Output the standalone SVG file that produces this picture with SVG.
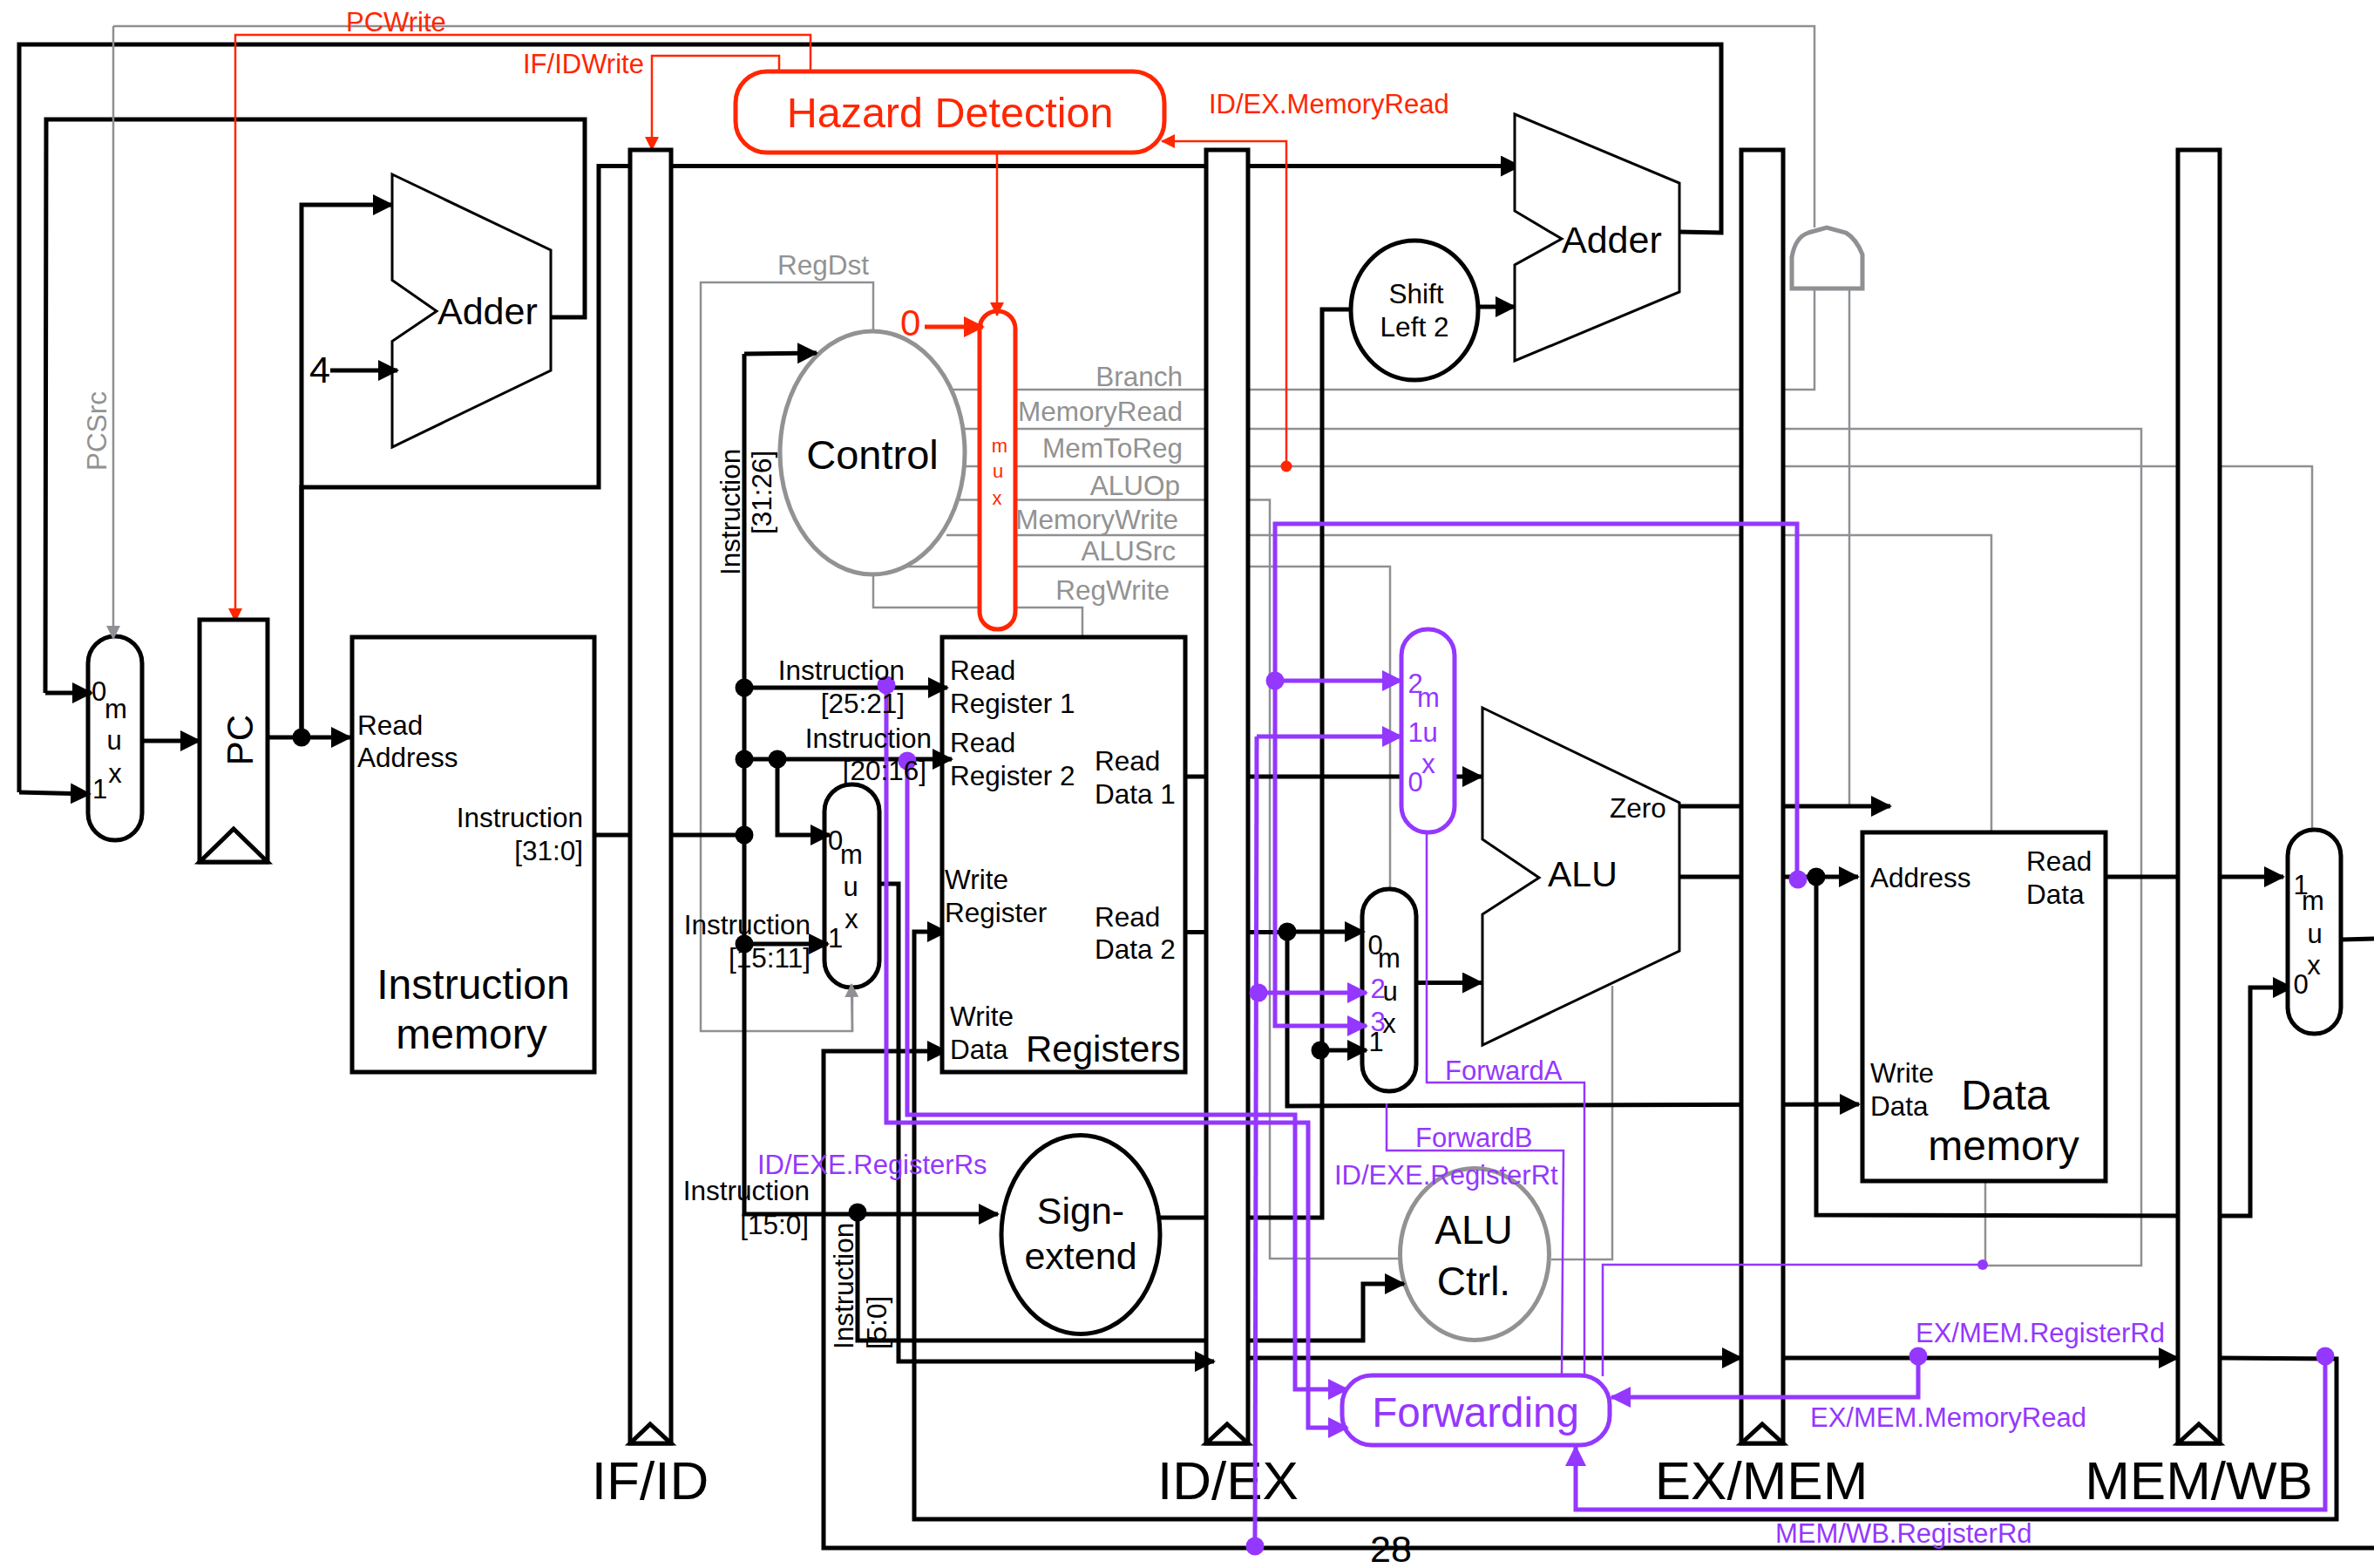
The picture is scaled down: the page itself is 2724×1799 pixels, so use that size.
<svg xmlns="http://www.w3.org/2000/svg" width="2724" height="1799" viewBox="0 0 2724 1799">
<style>
text{font-family:"Liberation Sans",Arial,sans-serif;fill:#000}
.s31{font-size:31px}.s32{font-size:31.500px}.s42{font-size:42px}.s48{font-size:48px}.s60{font-size:62px}
.m{text-anchor:middle}.e{text-anchor:end}
.tg{fill:#929292;font-size:31.500px}.tr{fill:#ff2600;font-size:31px}.tp{fill:#9437ff;font-size:31px}
.w{fill:none;stroke-linejoin:miter}
.k{stroke:#000;stroke-width:5}.g{stroke:#8e9093;stroke-width:2.500}.r{stroke:#ff2600;stroke-width:2.500}
.r2{stroke:#ff2600;stroke-width:5}.p{stroke:#9437ff;stroke-width:5}.pt{stroke:#9437ff;stroke-width:2.500}
.box{fill:#fff;stroke:#000;stroke-width:5}.thin{fill:#fff;stroke:#000;stroke-width:3}
.gy{fill:#fff;stroke:#929292;stroke-width:5}
.rn{fill:#fff;stroke:#ff2600;stroke-width:5}.pn{fill:#fff;stroke:#9437ff;stroke-width:5}
.dk{fill:#000}.dp{fill:#9437ff}.dr{fill:#ff2600}
</style>
<defs>
<marker id="ak" markerUnits="userSpaceOnUse" markerWidth="26" markerHeight="26" refX="22" refY="12" orient="auto"><path d="M0,0L24,12L0,24Z" fill="#000"/></marker>
<marker id="ag" markerUnits="userSpaceOnUse" markerWidth="18" markerHeight="16" refX="15" refY="8" orient="auto"><path d="M0,0L16,8L0,16Z" fill="#8e9093"/></marker>
<marker id="ar" markerUnits="userSpaceOnUse" markerWidth="18" markerHeight="16" refX="15" refY="8" orient="auto"><path d="M0,0L16,8L0,16Z" fill="#ff2600"/></marker>
<marker id="ar2" markerUnits="userSpaceOnUse" markerWidth="26" markerHeight="26" refX="22" refY="12" orient="auto"><path d="M0,0L24,12L0,24Z" fill="#ff2600"/></marker>
<marker id="ap" markerUnits="userSpaceOnUse" markerWidth="26" markerHeight="26" refX="22" refY="12" orient="auto"><path d="M0,0L24,12L0,24Z" fill="#9437ff"/></marker>
</defs>
<rect width="2724" height="1799" fill="#fff"/>

<g id="connectors">
<g class="w g">
<path d="M130,30H2082V261"/>
<path d="M1085,447H2082V333"/>
<path d="M2122,333V925"/>
<path d="M1100,492H2457V1452H2276"/>
<path d="M1100,535H2653V952"/>
<path d="M1096,573.500H1457V1444H1607"/>
<path d="M1086,614H2285V955"/>
<path d="M1036,650H1595V1020"/>
<path d="M1002,659V697H1242V731"/>
<path d="M1002,380V324H804V1183H978V1135"/>
<path d="M1850,1131V1445H1780"/>
<path d="M2278,1355V1452"/>
</g>
<g class="w k">
<path d="M1927,266L1975,267V51H22V909"/>
<path d="M632,364H671V137H53L52,795"/>
<path d="M346,846V559H687V190.500H723"/>
<path d="M771,190.500H1744" marker-end="url(#ak)"/>
<path d="M346,846V235H450" marker-end="url(#ak)"/>
<path d="M682,958H854"/>
<path d="M854,958V406"/>
<path d="M854,958V1393H1145" marker-end="url(#ak)"/>
<path d="M1360,891H1700" marker-end="url(#ak)"/>
<path d="M1360,1069.500H1477"/>
<path d="M1477,1069V1269L2133,1267" marker-end="url(#ak)"/>
<path d="M1332,1397H1517V355H1549"/>
<path d="M1697,352H1738" marker-end="url(#ak)"/>
<path d="M1927,925H2169" marker-end="url(#ak)"/>
<path d="M1927,1006H2132" marker-end="url(#ak)"/>
<path d="M2084,1006V1394L2582,1395V1133H2630" marker-end="url(#ak)"/>
<path d="M2416,1006H2620" marker-end="url(#ak)"/>
<path d="M984,1391V1538H1432"/>
<path d="M1009,1014H1031V1562H1360"/>
<path d="M1432,1558H1998" marker-end="url(#ak)"/>
<path d="M2046,1558H2499" marker-end="url(#ak)"/>
<path d="M2547,1558L2681,1559V1743H1049V1069H1086" marker-end="url(#ak)"/>
<path d="M2687,1078L2724,1077"/>
<path d="M2724,1776H945V1206H1086" marker-end="url(#ak)"/>
</g>
<g class="w r">
<path d="M930,82V40H270V713" marker-end="url(#ar)"/>
<path d="M894,86V64H748V172" marker-end="url(#ar)"/>
<path d="M1476,535V162H1333" marker-end="url(#ar)"/>
</g>
</g>

<g id="if-id"><rect class="box" x="723" y="172" width="47" height="1484"/><path class="box" d="M723,1656L746,1634L770,1656Z"/><text class="s60 m" x="746" y="1720">IF/ID</text></g>
<g id="id-ex"><rect class="box" x="1384" y="172" width="48" height="1484"/><path class="box" d="M1384,1656L1408,1634L1432,1656Z"/><text class="s60 m" x="1409" y="1720">ID/EX</text></g>
<g id="ex-mem"><rect class="box" x="1998" y="172" width="48" height="1484"/><path class="box" d="M1998,1656L2022,1634L2046,1656Z"/><text class="s60 m" x="2021" y="1720">EX/MEM</text></g>
<g id="mem-wb"><rect class="box" x="2499" y="172" width="48" height="1484"/><path class="box" d="M2499,1656L2523,1634L2547,1656Z"/><text class="s60 m" x="2523" y="1720">MEM/WB</text></g>

<g id="adder1"><path class="thin" d="M450,200L632,287V425L450,513V391.500L501,357L450,321.500Z"/><text x="502" y="372" style="font-size:43px">Adder</text></g>
<g id="adder2"><path class="thin" d="M1738,131L1927,210V335L1738,414V304L1792,274L1738,242Z"/><text x="1792" y="290" style="font-size:43px">Adder</text></g>
<g id="pc-mux"><rect class="box" x="101" y="730" width="62" height="234" rx="31"/>
<text class="s31" x="105" y="804">0</text><text class="s31 m" x="133" y="824">m</text><text class="s31 m" x="131" y="860">u</text><text class="s31 m" x="132" y="898">x</text><text class="s31" x="106" y="916">1</text></g>
<g id="pc"><rect class="box" x="229" y="711" width="78" height="278"/><path class="box" d="M229,989L268,951L307,989Z"/><text class="s42 m" transform="translate(290,849) rotate(-90)">PC</text></g>
<g id="instruction-memory"><rect class="box" x="404" y="731" width="278" height="499"/>
<text class="s32" x="410" y="843">Read</text><text class="s32" x="410" y="880">Address</text>
<text class="s32 e" x="669" y="949">Instruction</text><text class="s32 e" x="669" y="987">[31:0]</text>
<text class="s48 m" x="543" y="1146">Instruction</text><text class="s48 m" x="541" y="1203">memory</text></g>
<g id="hazard"><rect class="rn" x="844" y="82" width="492" height="93" rx="36"/><text class="m" x="1090" y="146" style="font-size:48.500px;fill:#ff2600">Hazard Detection</text></g>
<g id="control"><ellipse class="gy" cx="1001" cy="519.500" rx="106" ry="139.500"/><text class="m" x="1001" y="538" style="font-size:47px">Control</text></g>
<g id="control-mux"><rect class="rn" x="1124" y="357" width="41" height="365" rx="20"/>
<text class="m" x="1147" y="519" style="font-size:22px;fill:#ff2600">m</text><text class="m" x="1145" y="548" style="font-size:22px;fill:#ff2600">u</text><text class="m" x="1144" y="579" style="font-size:22px;fill:#ff2600">x</text></g>
<g id="registers"><rect class="box" x="1081" y="731" width="279" height="499"/>
<text class="s32" x="1090" y="780">Read</text><text class="s32" x="1090" y="818">Register 1</text>
<text class="s32" x="1090" y="863">Read</text><text class="s32" x="1090" y="901">Register 2</text>
<text class="s32" x="1256" y="884">Read</text><text class="s32" x="1256" y="922">Data 1</text>
<text class="s32" x="1084" y="1020">Write</text><text class="s32" x="1084" y="1058">Register</text>
<text class="s32" x="1256" y="1063">Read</text><text class="s32" x="1256" y="1100">Data 2</text>
<text class="s32" x="1090" y="1177">Write</text><text class="s32" x="1090" y="1215">Data</text>
<text class="s42" x="1177" y="1218">Registers</text></g>
<g id="regdst-mux"><rect class="box" x="946" y="900" width="63" height="233" rx="31"/>
<text class="s31" x="950" y="975">0</text><text class="s31 m" x="977" y="991">m</text><text class="s31 m" x="976" y="1028">u</text><text class="s31 m" x="977" y="1065">x</text><text class="s31" x="950" y="1087">1</text></g>
<g id="sign-extend"><ellipse class="box" cx="1240" cy="1416.500" rx="91" ry="114"/><text class="m" x="1240" y="1404" style="font-size:43px">Sign-</text><text class="m" x="1240" y="1456" style="font-size:43px">extend</text></g>
<g id="shift-left"><ellipse class="box" cx="1623" cy="356" rx="73" ry="80"/><text class="s32 m" x="1625" y="348">Shift</text><text class="s32 m" x="1623" y="386">Left 2</text></g>
<g id="alu"><path class="thin" d="M1701,812L1927,921V1091L1701,1199V1049L1766,1007L1701,963Z"/><text x="1776" y="1017" style="font-size:41px">ALU</text><text class="s32" x="1847" y="938">Zero</text></g>
<g id="alu-ctrl"><ellipse class="gy" cx="1692" cy="1439" rx="85.500" ry="98.500"/><text class="m" x="1691" y="1427" style="font-size:46px">ALU</text><text class="m" x="1691" y="1486" style="font-size:46px">Ctrl.</text></g>
<g id="forward-a-mux"><rect class="pn" x="1608" y="722" width="61" height="233" rx="30"/>
<text class="tp m" x="1624" y="795">2</text><text class="tp m" x="1639" y="811">m</text><text class="tp m" x="1624" y="851">1</text><text class="tp m" x="1641" y="851">u</text><text class="tp m" x="1639" y="887">x</text><text class="tp m" x="1624" y="908">0</text></g>
<g id="forward-b-mux"><rect class="box" x="1563" y="1020" width="62" height="232" rx="31"/>
<text class="s31 m" x="1578" y="1095">0</text><text class="s31 m" x="1594" y="1110">m</text><text class="s31 m" x="1595" y="1148">u</text><text class="s31 m" x="1594" y="1185">x</text><text class="s31 m" x="1579" y="1206">1</text>
<text class="tp m" x="1581" y="1145">2</text><text class="tp m" x="1581" y="1183">3</text></g>
<g id="data-memory"><rect class="box" x="2137" y="955" width="279" height="400"/>
<text class="s32" x="2146" y="1018">Address</text><text class="s32" x="2325" y="999">Read</text><text class="s32" x="2325" y="1037">Data</text>
<text class="s32" x="2146" y="1242">Write</text><text class="s32" x="2146" y="1280">Data</text>
<text class="s48 m" x="2301" y="1273">Data</text><text class="s48 m" x="2299" y="1331">memory</text></g>
<g id="wb-mux"><rect class="box" x="2625" y="952" width="61" height="234" rx="30"/>
<text class="s31 m" x="2640" y="1026">1</text><text class="s31 m" x="2654" y="1044">m</text><text class="s31 m" x="2656" y="1082">u</text><text class="s31 m" x="2655" y="1118">x</text><text class="s31 m" x="2640" y="1140">0</text></g>
<g id="and-gate"><path d="M2056,331V295Q2060,272 2075,267L2096,261L2118,267Q2130,274 2137,292V331Z" fill="#fff" stroke="#8e9093" stroke-width="5"/></g>
<g id="forwarding"><rect class="pn" x="1540" y="1578" width="307" height="80" rx="34"/><text class="m" x="1693" y="1637" style="font-size:47.500px;fill:#9437ff">Forwarding</text></g>

<g id="connectors-over">
<g class="w k">
<path d="M52,795H105" marker-end="url(#ak)"/>
<path d="M22,909L103,911" marker-end="url(#ak)"/>
<path d="M163,850H229" marker-end="url(#ak)"/>
<path d="M307,846H402" marker-end="url(#ak)"/>
<path d="M379,425H456" marker-end="url(#ak)"/>
<path d="M854,406L937,405" marker-end="url(#ak)"/>
<path d="M854,789H1087" marker-end="url(#ak)"/>
<path d="M854,871H1092" marker-end="url(#ak)"/>
<path d="M892,871V958H952" marker-end="url(#ak)"/>
<path d="M854,1083H950" marker-end="url(#ak)"/>
<path d="M1360,1562H1393" marker-end="url(#ak)"/>
<path d="M1432,1538H1564V1473H1611" marker-end="url(#ak)"/>
<path d="M1477,1069H1565" marker-end="url(#ak)"/>
<path d="M1517,1205H1568" marker-end="url(#ak)"/>
<path d="M1625,1127.500H1700" marker-end="url(#ak)"/>
</g>
<path class="w g" d="M130,30V733" marker-end="url(#ag)"/>
<path class="w g" d="M978,1183L977,1129" marker-end="url(#ag)"/>
<path class="w r" d="M1144,175V362" marker-end="url(#ar)"/>
<path class="w r2" d="M1061,375H1128" marker-end="url(#ar2)"/>
<g class="w p">
<path d="M2062,1009V601H1463V1177H1568" marker-end="url(#ap)"/>
<path d="M1463,781H1608" marker-end="url(#ap)"/>
<path d="M1442,845L1440,1774"/>
<path d="M1442,845H1608" marker-end="url(#ap)"/>
<path d="M1444,1139H1568" marker-end="url(#ap)"/>
<path d="M1017,786V1288H1501V1638H1546" marker-end="url(#ap)"/>
<path d="M1041,873V1279H1486V1594H1546" marker-end="url(#ap)"/>
<path d="M2201,1556V1603H1849" marker-end="url(#ap)"/>
<path d="M2668,1556V1732H1808V1660" marker-end="url(#ap)"/>
</g>
<g class="w pt">
<path d="M1637,955V1242H1818V1577"/>
<path d="M1591,1266V1320H1794L1792,1577"/>
<path d="M1839,1579V1451H2275"/>
</g>
<circle class="dk" cx="346" cy="846" r="10.500"/>
<circle class="dk" cx="854" cy="789" r="10.500"/>
<circle class="dk" cx="854" cy="871" r="10.500"/>
<circle class="dk" cx="892" cy="871" r="10.500"/>
<circle class="dk" cx="854" cy="958" r="10.500"/>
<circle class="dk" cx="854" cy="1083" r="10.500"/>
<circle class="dk" cx="984" cy="1391" r="10.500"/>
<circle class="dk" cx="1477" cy="1069" r="10.500"/>
<circle class="dk" cx="1515" cy="1205" r="10.500"/>
<circle class="dk" cx="2084" cy="1006" r="10.500"/>
<circle class="dr" cx="1476" cy="535" r="6.500"/>
<circle class="dp" cx="1017" cy="786" r="10.500"/>
<circle class="dp" cx="1041" cy="873" r="10.500"/>
<circle class="dp" cx="1463" cy="781" r="10.500"/>
<circle class="dp" cx="1444" cy="1139" r="10.500"/>
<circle class="dp" cx="1440" cy="1774" r="10.500"/>
<circle class="dp" cx="2063" cy="1009" r="10.500"/>
<circle class="dp" cx="2201" cy="1556" r="10.500"/>
<circle class="dp" cx="2668" cy="1556" r="10.500"/>
<circle class="dp" cx="2275" cy="1451" r="6"/>
</g>

<g id="labels">
<text class="tr" x="397" y="36">PCWrite</text>
<text class="tr" x="600" y="84">IF/IDWrite</text>
<text class="tr" x="1387" y="130">ID/EX.MemoryRead</text>
<text x="1033" y="385" style="font-size:42px;fill:#ff2600">0</text>
<text x="355" y="439" style="font-size:43px">4</text>
<text class="tg" transform="translate(122,540) rotate(-90)">PCSrc</text>
<text class="tg" x="892" y="315">RegDst</text>
<text class="tg e" x="1357" y="443">Branch</text>
<text class="tg e" x="1357" y="483">MemoryRead</text>
<text class="tg e" x="1357" y="525">MemToReg</text>
<text class="tg e" x="1354" y="568">ALUOp</text>
<text class="tg e" x="1352" y="607">MemoryWrite</text>
<text class="tg e" x="1349" y="643">ALUSrc</text>
<text class="tg e" x="1342" y="688">RegWrite</text>
<text class="s32" transform="translate(849,660) rotate(-90)">Instruction</text>
<text class="s32" transform="translate(885,613) rotate(-90)">[31:26]</text>
<text class="s32 e" x="1038" y="780">Instruction</text><text class="s32 e" x="1038" y="818">[25:21]</text>
<text class="s32 e" x="1069" y="858">Instruction</text><text class="s32 e" x="1063" y="895">[20:16]</text>
<text class="s32 e" x="930" y="1072">Instruction</text><text class="s32 e" x="930" y="1110">[15:11]</text>
<text class="s32 e" x="929" y="1377">Instruction</text><text class="s32 e" x="928" y="1416">[15:0]</text>
<text class="s32" transform="translate(979,1548) rotate(-90)">Instruction</text>
<text class="s32" transform="translate(1017,1548) rotate(-90)">[5:0]</text>
<text class="tp" x="869" y="1347">ID/EXE.RegisterRs</text>
<text class="tp" x="1531" y="1359">ID/EXE.RegisterRt</text>
<text class="tp" x="1658" y="1239">ForwardA</text>
<text class="tp" x="1624" y="1316">ForwardB</text>
<text class="tp" x="2198" y="1540">EX/MEM.RegisterRd</text>
<text class="tp" x="2077" y="1637">EX/MEM.MemoryRead</text>
<text class="tp" x="2037" y="1770">MEM/WB.RegisterRd</text>
<text class="m" x="1596" y="1792" style="font-size:43px">28</text>
</g>
</svg>
